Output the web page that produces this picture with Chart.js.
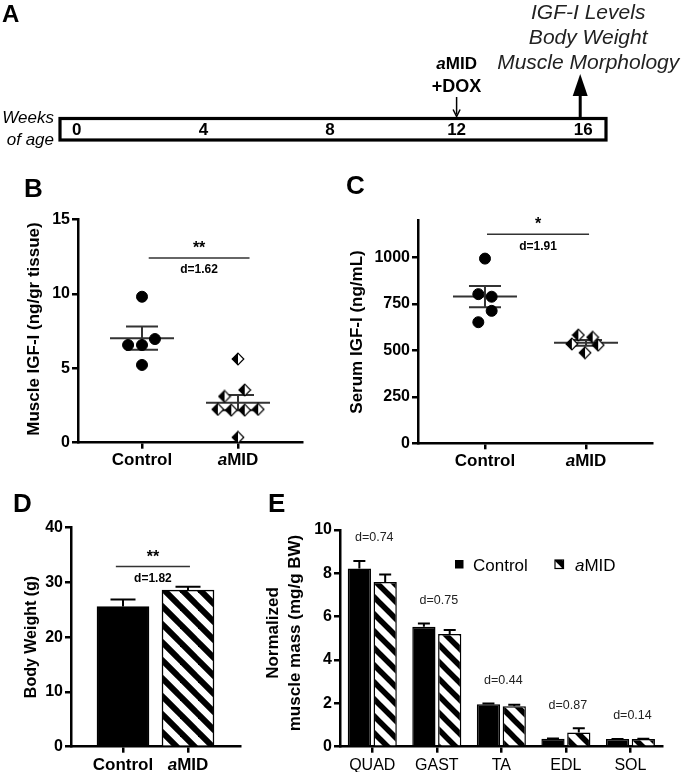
<!DOCTYPE html>
<html>
<head>
<meta charset="utf-8">
<script src="https://cdn.jsdelivr.net/npm/chart.js@4.4.0/dist/chart.umd.min.js"></script>
<style>
  body { margin: 0; background: #fff; }
  #fig { position: relative; width: 696px; height: 772px; background: #fff; overflow: hidden; }
  #fig canvas { position: absolute; }
</style>
</head>
<body>
<div id="fig">
  <canvas id="panelA" width="696" height="160" style="left:0;top:0"></canvas>
  <canvas id="panelB" width="330" height="300" style="left:0;top:170px"></canvas>
  <canvas id="panelC" width="366" height="300" style="left:330px;top:170px"></canvas>
  <canvas id="panelD" width="250" height="292" style="left:0;top:480px"></canvas>
  <canvas id="panelE" width="456" height="292" style="left:240px;top:480px"></canvas>
</div>
<script>
// ---- data ----
const weeks = [0, 4, 8, 12, 16];
const doxWeek = 12;
const endWeek = 16;
const endpoints = ['IGF-I Levels', 'Body Weight', 'Muscle Morphology'];

const groups = ['Control', 'aMID'];

// B: muscle IGF-I (ng/gr tissue)
const muscleTicks = [0, 5, 10, 15];
const muscleCtrl = [9.8, 6.56, 6.56, 6.96, 5.22];
const muscleCtrlX = [1, 0.855, 1, 1.135, 1];
const muscleMid = [5.62, 3.54, 3.11, 2.24, 2.19, 2.19, 2.24, 0.36];
const muscleMidX = [2, 2.07, 1.86, 1.79, 1.93, 2.07, 2.21, 2];
const muscleMean = [7.02, 2.69];
const muscleSem = [0.78, 0.51];
const muscleStars = '**';
const muscleD = '1.62';

// C: serum IGF-I (ng/mL)
const serumTicks = [0, 250, 500, 750, 1000];
const serumCtrl = [993, 802, 788, 712, 651];
const serumCtrlX = [1, 0.934, 1.066, 1.066, 0.934];
const serumMid = [582, 570, 534, 528, 487];
const serumMidX = [1.924, 2.066, 1.86, 2.12, 1.99];
const serumMean = [789, 540];
const serumSem = [57, 16];
const serumStars = '*';
const serumD = '1.91';

// D: body weight (g)
const weightTicks = [0, 10, 20, 30, 40];
const bodyWeight = [25.6, 28.6];
const bodyWeightSem = [1.3, 0.6];
const weightStars = '**';
const weightD = '1.82';

// E: normalized muscle mass (mg/g BW)
const massTicks = [0, 2, 4, 6, 8, 10];
const muscles = ['QUAD', 'GAST', 'TA', 'EDL', 'SOL'];
const massCtrl = [8.22, 5.54, 1.96, 0.37, 0.35];
const massCtrlSem = [0.35, 0.15, 0.03, 0.01, 0.01];
const massMid = [7.6, 5.2, 1.87, 0.65, 0.35];
const massMidSem = [0.35, 0.18, 0.07, 0.2, 0.02];
const massD = ['0.74', '0.75', '0.44', '0.87', '0.14'];

// ---- helpers ----
const FONT = '"Liberation Sans", Arial, Helvetica, sans-serif';
Chart.defaults.font.family = FONT;
Chart.defaults.color = '#000';

function font(size, weight, style) {
    return (style || 'normal') + ' ' + (weight || 'normal') + ' ' + size + 'px ' + FONT;
}

function groupParts(name, size, weight) {
    if (name === 'aMID') return [['a', font(size, weight, 'italic')], ['MID', font(size, weight)]];
    return [[name, font(size, weight)]];
}

function richText(ctx, parts, x, y, align) {
    let total = 0;
    parts.forEach(p => { ctx.font = p[1]; total += ctx.measureText(p[0]).width; });
    let cx = align === 'center' ? x - total / 2 : (align === 'right' ? x - total : x);
    ctx.textAlign = 'left';
    parts.forEach(p => {
        ctx.font = p[1];
        ctx.fillText(p[0], cx, y);
        cx += ctx.measureText(p[0]).width;
    });
}

function diamondImg() {
    const c = document.createElement('canvas');
    c.width = 14; c.height = 14;
    const g = c.getContext('2d');
    const m = 7, r = 5.8;
    const path = () => { g.beginPath(); g.moveTo(m, m - r); g.lineTo(m + r, m); g.lineTo(m, m + r); g.lineTo(m - r, m); g.closePath(); };
    path(); g.fillStyle = '#fff'; g.fill();
    g.beginPath(); g.moveTo(m, m - r); g.lineTo(m, m + r); g.lineTo(m - r, m); g.closePath();
    g.fillStyle = '#000'; g.fill();
    path(); g.lineWidth = 1.2; g.strokeStyle = '#000'; g.stroke();
    return c;
}

function hatchPattern(size, width) {
    const c = document.createElement('canvas');
    c.width = size; c.height = size;
    const g = c.getContext('2d');
    g.fillStyle = '#fff'; g.fillRect(0, 0, size, size);
    g.strokeStyle = '#000'; g.lineWidth = width;
    [-size, 0, size].forEach(k => {
        g.beginPath(); g.moveTo(-2, -2 + k); g.lineTo(size + 2, size + 2 + k); g.stroke();
    });
    return document.createElement('canvas').getContext('2d').createPattern(c, 'repeat');
}

const tickGrid = () => ({ display: true, drawOnChartArea: false, drawTicks: true, tickLength: 6, color: '#000', lineWidth: 2.5 });
const axisBorder = () => ({ display: true, color: '#000', width: 2.5 });

function yScale(min, max, tickValues, width) {
    return {
        type: 'linear', min: min, max: max,
        afterBuildTicks: s => { s.ticks = tickValues.map(v => ({ value: v })); },
        ticks: { color: '#000', padding: 2, font: { size: 16, weight: 'bold' }, callback: v => String(v) },
        grid: tickGrid(), border: axisBorder(),
        afterFit: s => { s.width = width; }
    };
}

function xGroups(min, max, height) {
    return {
        type: 'linear', min: min, max: max, offset: false,
        afterBuildTicks: s => { s.ticks = groups.map((g, i) => ({ value: i + 1 })); },
        ticks: { display: false },
        grid: Object.assign(tickGrid(), { offset: false }), border: axisBorder(),
        afterFit: s => { s.height = height; }
    };
}

function baseOptions(pad, scales) {
    return {
        responsive: false, animation: false, devicePixelRatio: 1,
        layout: { padding: pad },
        plugins: { legend: { display: false }, tooltip: { enabled: false } },
        scales: scales
    };
}

// letter, rotated y title, group labels, significance bar
function decorate(chart, cfg) {
    const { ctx, scales: { x, y } } = chart;
    ctx.save();
    ctx.fillStyle = '#000';
    ctx.textBaseline = 'alphabetic';
    ctx.textAlign = 'left';
    ctx.font = font(26, 'bold');
    ctx.fillText(cfg.letter, cfg.letterPos[0], cfg.letterPos[1]);

    ctx.save();
    ctx.translate(cfg.titlePos[0], cfg.titlePos[1]);
    ctx.rotate(-Math.PI / 2);
    ctx.textAlign = 'center';
    ctx.textBaseline = 'middle';
    ctx.font = font(cfg.titleSize, 'bold');
    cfg.title.forEach((t, i) => ctx.fillText(t, 0, (i - (cfg.title.length - 1) / 2) * 22));
    ctx.restore();

    if (cfg.groupLabelY) {
        ctx.textBaseline = 'middle';
        groups.forEach((g, i) => richText(ctx, groupParts(g, 17, 'bold'), x.getPixelForValue(i + 1), cfg.groupLabelY, 'center'));
    }

    if (cfg.sig) {
        const p1 = x.getPixelForValue(cfg.sig.x[0]), p2 = x.getPixelForValue(cfg.sig.x[1]);
        const ly = y.getPixelForValue(cfg.sig.y);
        ctx.strokeStyle = '#333'; ctx.lineWidth = 1.5;
        ctx.beginPath(); ctx.moveTo(p1, ly); ctx.lineTo(p2, ly); ctx.stroke();
        const mid = (p1 + p2) / 2;
        ctx.textAlign = 'center';
        ctx.textBaseline = 'alphabetic';
        ctx.font = font(16, 'bold');
        ctx.fillText(cfg.sig.stars, mid, ly - 5);
        ctx.textBaseline = 'middle';
        ctx.font = font(12, 'bold');
        ctx.fillText('d=' + cfg.sig.d, mid, ly + 12);
    }
    ctx.restore();
}

function dotPlotPlugin(cfg) {
    return {
        id: 'dotPlot',
        beforeDatasetsDraw(chart) {
            const { ctx, scales: { x, y } } = chart;
            ctx.save();
            ctx.strokeStyle = '#333'; ctx.lineWidth = 2;
            cfg.means.forEach((m, i) => {
                const cx = x.getPixelForValue(i + 1);
                const ym = y.getPixelForValue(m);
                const yt = y.getPixelForValue(m + cfg.sems[i]);
                const yb = y.getPixelForValue(m - cfg.sems[i]);
                ctx.beginPath();
                ctx.moveTo(cx - 32, ym); ctx.lineTo(cx + 32, ym);
                ctx.moveTo(cx, yt); ctx.lineTo(cx, yb);
                ctx.moveTo(cx - 16, yt); ctx.lineTo(cx + 16, yt);
                ctx.moveTo(cx - 16, yb); ctx.lineTo(cx + 16, yb);
                ctx.stroke();
            });
            ctx.restore();
        },
        afterDraw(chart) { decorate(chart, cfg); }
    };
}

function errorBarPlugin(sems, capHalf) {
    return {
        id: 'errorBars',
        afterDatasetsDraw(chart) {
            const { ctx, scales: { y } } = chart;
            ctx.save();
            ctx.strokeStyle = '#000'; ctx.lineWidth = 2;
            chart.data.datasets.forEach((ds, di) => {
                chart.getDatasetMeta(di).data.forEach((el, i) => {
                    const raw = ds.data[i];
                    const v = typeof raw === 'number' ? raw : raw.y;
                    const top = y.getPixelForValue(v + sems[di][i]);
                    ctx.beginPath();
                    ctx.moveTo(el.x, el.y); ctx.lineTo(el.x, top);
                    ctx.moveTo(el.x - capHalf, top); ctx.lineTo(el.x + capHalf, top);
                    ctx.stroke();
                });
            });
            ctx.restore();
        }
    };
}

const diamond = diamondImg();

function scatterData(vals, xs) {
    return vals.map((v, i) => ({ x: xs[i], y: v }));
}

// ---- A: timeline ----
new Chart(document.getElementById('panelA'), {
    type: 'scatter',
    data: { datasets: [{ data: [] }] },
    options: baseOptions({ left: 60, right: 90, top: 118.5, bottom: 20 }, {
        x: { type: 'linear', display: false, min: -0.53, max: 16.72 },
        y: { type: 'linear', display: false, min: 0, max: 1 }
    }),
    plugins: [{
        id: 'timeline',
        afterDraw(chart) {
            const { ctx, chartArea: a, scales: { x } } = chart;
            ctx.save();
            ctx.strokeStyle = '#000'; ctx.lineWidth = 3.2;
            ctx.strokeRect(a.left, a.top, a.right - a.left, a.bottom - a.top);
            ctx.fillStyle = '#000';
            ctx.textAlign = 'center'; ctx.textBaseline = 'middle';
            ctx.font = font(17, 'bold');
            const cy = (a.top + a.bottom) / 2 + 1;
            weeks.forEach(w => ctx.fillText(String(w), x.getPixelForValue(w), cy));

            // treatment start
            const xd = x.getPixelForValue(doxWeek);
            ctx.lineWidth = 1.5;
            ctx.beginPath(); ctx.moveTo(xd, 97); ctx.lineTo(xd, a.top - 4); ctx.stroke();
            ctx.beginPath(); ctx.moveTo(xd - 3.5, a.top - 9); ctx.lineTo(xd, a.top - 2); ctx.lineTo(xd + 3.5, a.top - 9); ctx.stroke();
            ctx.textBaseline = 'middle';
            richText(ctx, groupParts('aMID', 17, 'bold'), xd, 64, 'center');
            ctx.font = font(18, 'bold'); ctx.textAlign = 'center';
            ctx.fillText('+DOX', xd, 87);

            // endpoint
            const xe = x.getPixelForValue(endWeek) - 3;
            ctx.lineWidth = 3;
            ctx.beginPath(); ctx.moveTo(xe, a.top - 1); ctx.lineTo(xe, 92); ctx.stroke();
            ctx.beginPath(); ctx.moveTo(xe, 74); ctx.lineTo(xe + 7.5, 96); ctx.lineTo(xe - 7.5, 96); ctx.closePath(); ctx.fill();
            ctx.fillStyle = '#222';
            ctx.font = font(21, 'normal', 'italic');
            endpoints.forEach((t, i) => ctx.fillText(t, xe + 8, 13 + i * 25));

            ctx.fillStyle = '#000';
            ctx.font = font(17, 'normal', 'italic');
            ctx.textAlign = 'right';
            ctx.fillText('Weeks', 54, 118);
            ctx.fillText('of age', 54, 140);

            ctx.textAlign = 'left'; ctx.textBaseline = 'alphabetic';
            ctx.font = font(24, 'bold');
            ctx.fillText('A', 2, 22);
            ctx.restore();
        }
    }]
});

// ---- B: muscle IGF-I ----
new Chart(document.getElementById('panelB'), {
    type: 'scatter',
    data: {
        datasets: [
            { data: scatterData(muscleCtrl, muscleCtrlX), pointStyle: 'circle', pointRadius: 5.5, backgroundColor: '#000', borderColor: '#000' },
            { data: scatterData(muscleMid, muscleMidX), pointStyle: diamond, pointRadius: 6 }
        ]
    },
    options: baseOptions({ left: 0, right: 28, top: 49.3, bottom: 0 }, {
        x: xGroups(1 / 3, 8 / 3, 27.3),
        y: yScale(0, 15, muscleTicks, 78)
    }),
    plugins: [dotPlotPlugin({
        means: muscleMean, sems: muscleSem,
        letter: 'B', letterPos: [24, 27],
        title: ['Muscle IGF-I (ng/gr tissue)'], titleSize: 17, titlePos: [34, 159],
        groupLabelY: 290,
        sig: { x: [1.07, 2.12], y: 12.4, stars: muscleStars, d: muscleD }
    })]
});

// ---- C: serum IGF-I ----
new Chart(document.getElementById('panelC'), {
    type: 'scatter',
    data: {
        datasets: [
            { data: scatterData(serumCtrl, serumCtrlX), pointStyle: 'circle', pointRadius: 5.5, backgroundColor: '#000', borderColor: '#000' },
            { data: scatterData(serumMid, serumMidX), pointStyle: diamond, pointRadius: 6 }
        ]
    },
    options: baseOptions({ left: 0, right: 43.3, top: 50.1, bottom: 0 }, {
        x: xGroups(0.337, 2.66, 26.7),
        y: yScale(0, 1200, serumTicks, 88)
    }),
    plugins: [dotPlotPlugin({
        means: serumMean, sems: serumSem,
        letter: 'C', letterPos: [16, 24],
        title: ['Serum IGF-I (ng/mL)'], titleSize: 17, titlePos: [27, 162],
        groupLabelY: 291,
        sig: { x: [1.02, 2.03], y: 1124, stars: serumStars, d: serumD }
    })]
});

// ---- D: body weight ----
new Chart(document.getElementById('panelD'), {
    type: 'bar',
    data: {
        datasets: [{
            data: bodyWeight.map((v, i) => ({ x: i + 1, y: v })),
            backgroundColor: ['#000', hatchPattern(18, 6)],
            borderColor: '#000', borderWidth: 1.5, barThickness: 52
        }]
    },
    options: baseOptions({ left: 0, right: 10, top: 47.7, bottom: 0 }, {
        x: xGroups(0.2, 2.8, 25.3),
        y: yScale(0, 40, weightTicks, 71)
    }),
    plugins: [errorBarPlugin([bodyWeightSem], 12.5), {
        id: 'decorD',
        afterDraw(chart) {
            decorate(chart, {
                letter: 'D', letterPos: [13, 32],
                title: ['Body Weight (g)'], titleSize: 16, titlePos: [32, 157],
                groupLabelY: 285,
                sig: { x: [0.89, 2.03], y: 32.9, stars: weightStars, d: weightD }
            });
        }
    }]
});

// ---- E: normalized muscle mass ----
const hatchE = hatchPattern(17, 5.5);
new Chart(document.getElementById('panelE'), {
    type: 'bar',
    data: {
        labels: muscles,
        datasets: [
            { label: 'Control', data: massCtrl, backgroundColor: '#000', borderColor: '#000', borderWidth: 1.5, categoryPercentage: 0.8, barPercentage: 0.9 },
            { label: 'aMID', data: massMid, backgroundColor: hatchE, borderColor: '#000', borderWidth: 1.5, categoryPercentage: 0.8, barPercentage: 0.9 }
        ]
    },
    options: baseOptions({ left: 0, right: 33.3, top: 50, bottom: 0 }, {
        x: {
            type: 'category',
            ticks: { color: '#000', padding: 3, font: { size: 16 } },
            grid: Object.assign(tickGrid(), { offset: false }), border: axisBorder(),
            afterFit: s => { s.height = 25.3; }
        },
        y: yScale(0, 10, massTicks, 100)
    }),
    plugins: [errorBarPlugin([massCtrlSem, massMidSem], 6), {
        id: 'decorE',
        afterDraw(chart) {
            const { ctx, scales: { x, y } } = chart;
            decorate(chart, {
                letter: 'E', letterPos: [28, 32],
                title: ['Normalized', 'muscle mass (mg/g BW)'], titleSize: 17, titlePos: [44.5, 153]
            });
            ctx.save();
            ctx.fillStyle = '#222';
            ctx.textAlign = 'center'; ctx.textBaseline = 'middle';
            ctx.font = font(12.5);
            muscles.forEach((m, i) => {
                const top = Math.max(massCtrl[i] + massCtrlSem[i], massMid[i] + massMidSem[i]);
                ctx.fillText('d=' + massD[i], x.getPixelForValue(i) + 2, y.getPixelForValue(top) - 23);
            });
            // legend
            ctx.fillStyle = '#000';
            ctx.fillRect(215, 80, 8.5, 8.5);
            ctx.textBaseline = 'middle';
            richText(ctx, [['Control', font(17)]], 233, 86.5, 'left');
            ctx.fillStyle = hatchE;
            ctx.fillRect(315, 80, 8.5, 8.5);
            ctx.strokeStyle = '#000'; ctx.lineWidth = 1.2;
            ctx.strokeRect(315, 80, 8.5, 8.5);
            ctx.fillStyle = '#000';
            richText(ctx, groupParts('aMID', 17, 'normal'), 335, 86.5, 'left');
            ctx.restore();
        }
    }]
});
</script>
</body>
</html>
